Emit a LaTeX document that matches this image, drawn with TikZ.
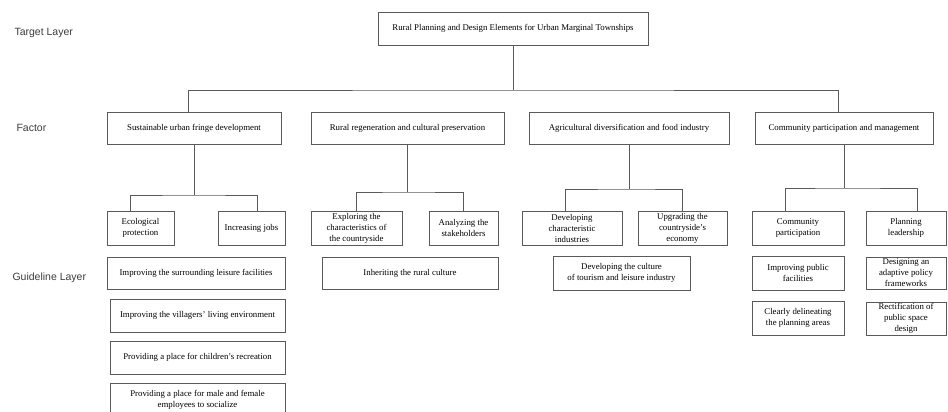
\documentclass[tikz,border=0pt]{standalone}
\usepackage{fontspec}
\setmainfont{Liberation Serif}
\newfontfamily\layerfont{Liberation Sans}
\usepackage{xcolor}
\usepackage{tikz}
\usetikzlibrary{positioning}
\definecolor{linegray}{HTML}{5A5A5A}
\definecolor{textgray}{HTML}{3C3C3C}
\tikzset{box/.style={draw=linegray,line width=0.8pt,rectangle,align=center,inner sep=0pt,font=\fontsize{8.8}{11}\selectfont},
  layer/.style={anchor=west,text=textgray,font=\layerfont\fontsize{10.5}{12}\selectfont},
  link/.style={draw=linegray,line width=0.8pt}}

\begin{document}
\begin{tikzpicture}[x=1pt,y=-1pt]
\useasboundingbox (0,0) rectangle (948,412);
  \node[layer]                                 (LT) at (11,33)   {Target Layer};
  \node[layer]                                 (LF) at (13,128)  {Factor};
  \node[layer]                                 (LG) at (9,278)   {Guideline Layer};
  \node[box,minimum width=270,minimum height=33] (T) at (513,28.5) {Rural Planning and Design Elements for Urban Marginal Townships};
  \node[box,minimum width=174,minimum height=32] (F1) at (194,128)   {Sustainable urban fringe development};
  \node[box,minimum width=193,minimum height=32] (F2) at (407.5,128) {Rural regeneration and cultural preservation};
  \node[box,minimum width=200,minimum height=32] (F3) at (629,128)   {Agricultural diversification and food industry};
  \node[box,minimum width=178,minimum height=32] (F4) at (844,128)   {Community participation and management};
  \node[box,minimum width=67,minimum height=34]  (S1) at (140.5,228) {Ecological\\protection};
  \node[box,minimum width=67,minimum height=34]  (S2) at (251.5,228) {Increasing jobs};
  \node[box,minimum width=91,minimum height=34]  (S3) at (356.5,228) {Exploring the\\characteristics of\\the countryside};
  \node[box,minimum width=69,minimum height=34]  (S4) at (463.5,228) {Analyzing the\\stakeholders};
  \node[box,minimum width=100,minimum height=34] (S5) at (572,228)   {Developing\\characteristic\\industries};
  \node[box,minimum width=89,minimum height=34]  (S6) at (682.5,228) {Upgrading the\\countryside's\\economy};
  \node[box,minimum width=92,minimum height=34]  (S7) at (798,228)   {Community\\participation};
  \node[box,minimum width=80,minimum height=34]  (S8) at (906,228)   {Planning\\leadership};
  \node[box,minimum width=178,minimum height=32] (G1) at (196,273)     {Improving the surrounding leisure facilities};
  \node[box,minimum width=175,minimum height=33] (G2) at (197.5,315.5) {Improving the villagers' living environment};
  \node[box,minimum width=175,minimum height=33] (G3) at (197.5,357.5) {Providing a place for children's recreation};
  \node[box,minimum width=175,minimum height=33] (G4) at (197.5,399.5) {Providing a place for male and female\\employees to socialize};
  \node[box,minimum width=176,minimum height=32] (G5) at (410,273)     {Inheriting the rural culture};
  \node[box,minimum width=137,minimum height=34] (G6) at (621.5,273)   {Developing the culture\\of tourism and leisure industry};
  \node[box,minimum width=92,minimum height=34]  (G7) at (798,273)     {Improving public\\facilities};
  \node[box,minimum width=80,minimum height=32]  (G8) at (906,273)     {Designing an\\adaptive policy\\frameworks};
  \node[box,minimum width=92,minimum height=34]  (G9) at (798,318)     {Clearly delineating\\the planning areas};
  \node[box,minimum width=80,minimum height=33]  (G10) at (906,318.5)  {Rectification of\\public space\\design};
  \coordinate (J)  at (513,90);
  \coordinate (B1) at (194,195);
  \coordinate (B2) at (407.5,192);
  \coordinate (B3) at (629,189);
  \coordinate (B4) at (844,188);
  \draw[link] (T.south) -- (J);
  \draw[link] ([xshift=-6]F1.north) |- (J) -| ([xshift=-6]F4.north);
  \draw[link] (F1.south) -- (B1);
  \draw[link] ([xshift=-10.5]S1.north) |- (B1) -| ([xshift=5.5]S2.north);
  \draw[link] (F2.south) -- (B2);
  \draw[link] (S3.north) |- (B2) -| (S4.north);
  \draw[link] (F3.south) -- (B3);
  \draw[link] ([xshift=-7]S5.north) |- (B3) -| (S6.north);
  \draw[link] (F4.south) -- (B4);
  \draw[link] ([xshift=-13]S7.north) |- (B4) -| ([xshift=11]S8.north);
\end{tikzpicture}
\end{document}
